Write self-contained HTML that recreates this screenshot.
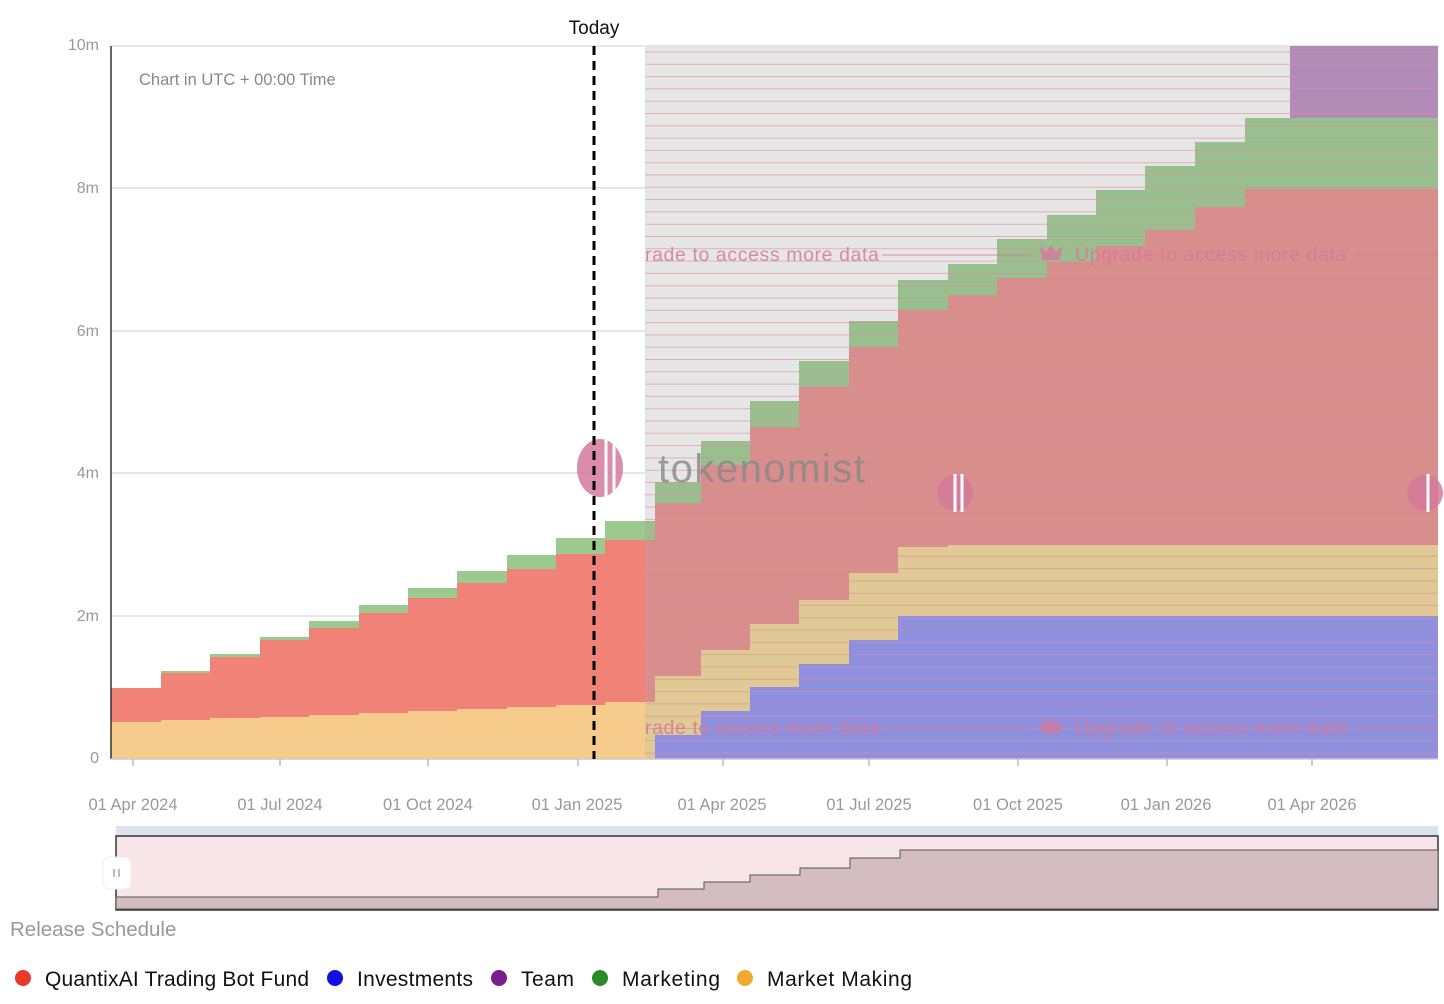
<!DOCTYPE html>
<html><head><meta charset="utf-8"><style>
body{margin:0;background:#fff;width:1444px;height:999px;overflow:hidden;font-family:"Liberation Sans",sans-serif}
</style></head><body>
<svg width="1444" height="999" xmlns="http://www.w3.org/2000/svg" font-family="Liberation Sans, sans-serif">
<rect width="1444" height="999" fill="#fff"/>
<g stroke="#ddd" stroke-width="1.5">
<line x1="111" y1="46" x2="1438" y2="46"/><line x1="111" y1="188" x2="1438" y2="188"/>
<line x1="111" y1="331" x2="1438" y2="331"/><line x1="111" y1="473" x2="1438" y2="473"/>
<line x1="111" y1="616" x2="1438" y2="616"/>
</g>
<g fill="#999" font-size="16" text-anchor="end">
<text x="99" y="50">10m</text><text x="99" y="193">8m</text><text x="99" y="336">6m</text>
<text x="99" y="478">4m</text><text x="99" y="621">2m</text><text x="99" y="763">0</text>
</g>
<text x="139" y="85" fill="#888" font-size="16.5">Chart in UTC + 00:00 Time</text>
<path fill="#9cc98f" d="M161,759V671H210V654H260V637H309V621H359V605H408V588H457V571H507V555H556V538H605V521H655V759Z"/>
<path fill="#f08277" d="M111,759V688H161V673H210V657H260V640H309V628H359V613H408V598H457V583H507V569H556V554H605V540H655V759Z"/>
<path fill="#f6cb8b" d="M111,759V722H161V720H210V718H260V717H309V715H359V713H408V711H457V709H507V707H556V705H605V702H655V759Z"/>
<rect x="645" y="46" width="793" height="713" fill="#e6e6e6"/>
<path fill="#9abf8f" d="M645,759V521H655V482H701V441H750V401H799V361H849V321H898V280H948V264H997V239H1047V215H1096V190H1145V166H1195V142H1245V118H1438V759Z"/>
<rect x="1290" y="46" width="148" height="72" fill="#b08cb8"/>
<path fill="#d98e8e" d="M645,759V540H655V503H701V465H750V427H799V387H849V347H898V310H948V295H997V278H1047V262H1096V246H1145V230H1195V207H1245V189H1438V759Z"/>
<path fill="#e0c994" d="M645,759V702H655V676H701V650H750V624H799V600H849V573H898V547H948V545H1438V759Z"/>
<path fill="#8f8fe0" d="M655,759V735H701V711H750V687H799V664H849V640H898V616H1438V759Z"/>
<g stroke="#e08a9a" stroke-width="1" opacity="0.6" id="hl"></g>
<script>
var g=document.getElementById('hl');for(var y=52;y<759;y+=12.3){var l=document.createElementNS('http://www.w3.org/2000/svg','line');l.setAttribute('x1',645);l.setAttribute('x2',1438);l.setAttribute('y1',y);l.setAttribute('y2',y);g.appendChild(l);}
</script>
<g fill="#d47a9a" font-size="19.5" opacity="0.85" letter-spacing="0.6">
<text x="645" y="261">rade to access more data</text><line x1="882" y1="255" x2="1030" y2="255" stroke="#d47a9a"/>
<text x="1075" y="261">Upgrade to access more data</text><line x1="1355" y1="255" x2="1438" y2="255" stroke="#d47a9a"/>
<text x="645" y="734">rade to access more data</text><line x1="882" y1="728" x2="1030" y2="728" stroke="#d47a9a"/>
<text x="1075" y="734">Upgrade to access more data</text><line x1="1355" y1="728" x2="1438" y2="728" stroke="#d47a9a"/>
<path d="M1040,246l6,6 5,-7 5,7 6,-6 -2,14h-18z"/><path d="M1040,719l6,6 5,-7 5,7 6,-6 -2,14h-18z"/>
</g>
<g fill="#d47a9a" opacity="0.85">
<ellipse cx="600" cy="468" rx="23" ry="29"/><ellipse cx="955" cy="493" rx="18" ry="18"/><ellipse cx="1425" cy="493" rx="18" ry="18"/>
</g>
<g stroke="#fff" stroke-width="3"><line x1="606" y1="440" x2="606" y2="498"/><line x1="614" y1="440" x2="614" y2="498"/><line x1="955" y1="474" x2="955" y2="512"/><line x1="962" y1="474" x2="962" y2="512"/><line x1="1428" y1="474" x2="1428" y2="512"/></g>
<text x="658" y="482" fill="#888" font-size="40" letter-spacing="1.5" opacity="0.8">tokenomist</text>
<line x1="111" y1="46" x2="111" y2="759" stroke="#333" stroke-width="1.5"/>
<line x1="111" y1="759" x2="1438" y2="759" stroke="#ccc" stroke-width="1.5"/>
<g stroke="#999"><line x1="133" y1="759" x2="133" y2="766"/><line x1="280" y1="759" x2="280" y2="766"/><line x1="428" y1="759" x2="428" y2="766"/><line x1="578" y1="759" x2="578" y2="766"/><line x1="723" y1="759" x2="723" y2="766"/><line x1="869" y1="759" x2="869" y2="766"/><line x1="1018" y1="759" x2="1018" y2="766"/><line x1="1167" y1="759" x2="1167" y2="766"/><line x1="1312" y1="759" x2="1312" y2="766"/></g>
<g fill="#999" font-size="16.5" text-anchor="middle">
<text x="133" y="810">01 Apr 2024</text><text x="280" y="810">01 Jul 2024</text><text x="428" y="810">01 Oct 2024</text><text x="577" y="810">01 Jan 2025</text><text x="722" y="810">01 Apr 2025</text><text x="869" y="810">01 Jul 2025</text><text x="1018" y="810">01 Oct 2025</text><text x="1166" y="810">01 Jan 2026</text><text x="1312" y="810">01 Apr 2026</text>
</g>
<line x1="594" y1="46" x2="594" y2="759" stroke="#000" stroke-width="3" stroke-dasharray="9,6"/>
<text x="594" y="34" font-size="19" text-anchor="middle" fill="#111">Today</text>
<rect x="116" y="826" width="1322" height="10" fill="#dde3ec"/>
<rect x="116" y="836" width="1322" height="74" fill="#f7e5ea" stroke="#333" stroke-width="1.5"/>
<path fill="#d4bcc3" stroke="#555" d="M116,909V897H658V889H704V882H750V875H800V868H850V858H900V850H1438V909Z"/>
<rect x="103" y="857" width="28" height="32" rx="6" fill="#fff" stroke="#eee"/>
<rect x="113" y="869" width="2" height="8" fill="#bbb"/><rect x="118" y="869" width="2" height="8" fill="#bbb"/>
<text x="10" y="936" fill="#999" font-size="20.5">Release Schedule</text>
<g font-size="21" fill="#111">
<circle cx="23" cy="978" r="8" fill="#e8392b"/><text x="45" y="986" textLength="264">QuantixAI Trading Bot Fund</text>
<circle cx="335" cy="978" r="8" fill="#1010e0"/><text x="357" y="986" textLength="116">Investments</text>
<circle cx="499" cy="978" r="8" fill="#7a1c8c"/><text x="521" y="986" textLength="53">Team</text>
<circle cx="600" cy="978" r="8" fill="#2a8a2a"/><text x="622" y="986" textLength="98">Marketing</text>
<circle cx="745" cy="978" r="8" fill="#f0a830"/><text x="767" y="986" textLength="145">Market Making</text>
</g>
</svg>
</body></html>
